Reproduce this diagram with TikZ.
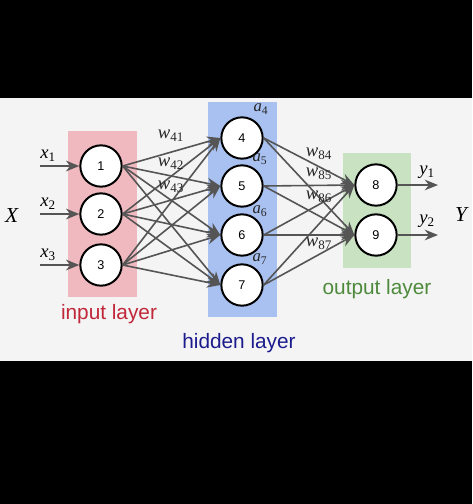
\documentclass[tikz,border=0pt]{standalone}
\usepackage{fontspec}
\setmainfont{Liberation Serif}
\setsansfont{Liberation Sans}
\usetikzlibrary{arrows.meta}
\definecolor{bgc}{HTML}{F4F4F4}
\definecolor{pinkc}{HTML}{F0B9BF}
\definecolor{bluec}{HTML}{A9C1F0}
\definecolor{greenc}{HTML}{C9E2C2}
\definecolor{edgec}{HTML}{555555}
\definecolor{redt}{HTML}{C0283A}
\definecolor{bluet}{HTML}{1C1C8E}
\definecolor{greent}{HTML}{4E8A3C}
\newcommand{\vv}[2]{\textit{#1}\textsubscript{\upshape #2}}
\begin{document}
\begin{tikzpicture}[x=0.75pt,y=-0.75pt,
  neuron/.style={circle,draw=black,line width=1.5pt,fill=white,minimum size=31pt,inner sep=0pt,font=\sffamily\fontsize{9.5}{10}\selectfont},
  conn/.style={draw=edgec,line width=1.2pt,-{Stealth[length=10pt,width=8pt]}},
  lab/.style={font=\fontsize{14}{16}\selectfont,inner sep=0pt},
  wlab/.style={font=\fontsize{14}{16}\selectfont,inner sep=0pt,text=black!85},
  alab/.style={font=\fontsize{12.5}{14}\selectfont,inner sep=0pt,text=black!85},
  layertxt/.style={font=\sffamily\fontsize{15.6}{18}\selectfont,inner sep=0pt}]
\useasboundingbox (0,0) rectangle (472,504);
\fill[black] (0,0) rectangle (472,504);
\fill[bgc] (0,98) rectangle (472,361);
% layer boxes
\fill[pinkc] (68,131) rectangle (137,297);
\fill[bluec] (208,102) rectangle (277,317);
\fill[greenc] (343,153) rectangle (411,268);
% neurons
\node[neuron] (n1) at (101,166) {1};
\node[neuron] (n2) at (101,214) {2};
\node[neuron] (n3) at (101,265) {3};
\node[neuron] (n4) at (242,138) {4};
\node[neuron] (n5) at (242,186) {5};
\node[neuron] (n6) at (242,235) {6};
\node[neuron] (n7) at (242,285) {7};
\node[neuron] (n8) at (376,185) {8};
\node[neuron] (n9) at (376,235) {9};
% connections
\foreach \s in {1,2,3}{\foreach \t in {4,5,6,7}{\draw[conn] (n\s.east) -- (n\t.west);}}
\foreach \s in {4,5,6,7}{\foreach \t in {8,9}{\draw[conn] (n\s.east) -- (n\t.west);}}
% inputs
\coordinate (i1) at (40,166);
\coordinate (i2) at (40,214);
\coordinate (i3) at (40,265);
\draw[conn] (i1) -- (n1.west);
\draw[conn] (i2) -- (n2.west);
\draw[conn] (i3) -- (n3.west);
\coordinate (o1) at (438,185);
\coordinate (o2) at (438,235);
\draw[conn] (n8.east) -- (o1);
\draw[conn] (n9.east) -- (o2);
% labels
\node[lab] (lx1) at (48,156) {\vv{x}{1}};
\node[lab] (lx2) at (48,204) {\vv{x}{2}};
\node[lab] (lx3) at (48,255) {\vv{x}{3}};
\node[lab] (lX) at (12,216) {\fontsize{16}{18}\selectfont\textit{X}};
\node[lab] (lY) at (462,215) {\fontsize{16}{18}\selectfont\textit{Y}};
\node[lab] (ly1) at (427,172) {\vv{y}{1}};
\node[lab] (ly2) at (427,221) {\vv{y}{2}};
\node[wlab] (w41) at (171,136) {\vv{w}{41}};
\node[wlab] (w42) at (171,164) {\vv{w}{42}};
\node[wlab] (w43) at (171,187) {\vv{w}{43}};
\node[wlab] (w84) at (319,154) {\vv{w}{84}};
\node[wlab] (w85) at (319,174) {\vv{w}{85}};
\node[wlab] (w86) at (319,197) {\vv{w}{86}};
\node[wlab] (w87) at (319,244) {\vv{w}{87}};
\node[alab] (a4) at (261,109) {\vv{a}{4}};
\node[alab] (a5) at (260,159) {\vv{a}{5}};
\node[alab] (a6) at (260,211) {\vv{a}{6}};
\node[alab] (a7) at (260,259) {\vv{a}{7}};
\node[layertxt,text=redt] (tin) at (109,314) {input layer};
\node[layertxt,text=bluet] (thid) at (239,343) {hidden layer};
\node[layertxt,text=greent] (tout) at (377,289) {output layer};
\end{tikzpicture}
\end{document}
